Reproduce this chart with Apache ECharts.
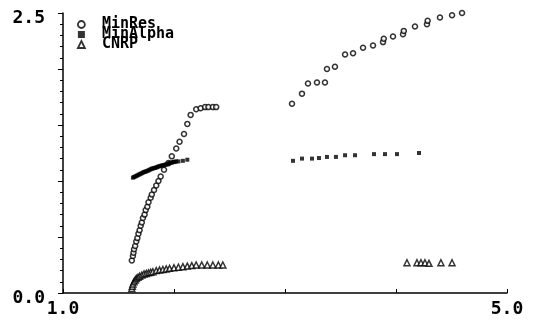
<!DOCTYPE html>
<html>
<head>
<meta charset="utf-8">
<script src="https://cdn.jsdelivr.net/npm/echarts@6/dist/echarts.min.js"></script>
<style>html,body{margin:0;padding:0;background:#fff}#c{width:560px;height:322px}</style>
</head>
<body>
<div id="c"></div>
<script>
const seriesNames = ['MinRes', 'MinAlpha', 'CNRP'];
const xTickLabels = [1, 5];
const yTickLabels = [0, 2.5];

const minResK = [1.62,1.63,1.635,1.64,1.65,1.66,1.67,1.68,1.69,1.70,1.71,1.72,1.735,1.745,1.76,1.77,1.79,1.80,1.82,1.84,1.86,1.88,1.91,1.95,1.98,2.02,2.05,2.09,2.12,2.15,2.20,2.24,2.28,2.31,2.35,2.38,
  3.063,3.153,3.207,3.288,3.360,3.378,3.450,3.541,3.613,3.703,3.793,3.883,3.89,3.973,4.063,4.07,4.171,4.279,4.285,4.396,4.505,4.595];
const minResVal = [0.29,0.33,0.36,0.39,0.42,0.46,0.49,0.53,0.56,0.60,0.63,0.67,0.70,0.74,0.77,0.81,0.85,0.88,0.92,0.96,1.00,1.04,1.10,1.16,1.22,1.29,1.35,1.42,1.51,1.59,1.64,1.65,1.66,1.66,1.66,1.66,
  1.69,1.78,1.87,1.88,1.88,2.00,2.02,2.13,2.14,2.19,2.21,2.24,2.27,2.29,2.31,2.34,2.38,2.40,2.43,2.46,2.48,2.50];

const minAlphaK = [1.63,1.64,1.65,1.66,1.67,1.68,1.69,1.70,1.71,1.72,1.73,1.74,1.75,1.76,1.77,1.78,1.79,1.80,1.81,1.82,1.83,1.84,1.85,1.86,1.87,1.88,1.89,1.90,1.91,1.92,1.93,1.94,1.95,1.96,1.97,1.98,1.99,2.00,2.01,2.02,2.04,2.08,2.12,
  3.072,3.153,3.243,3.306,3.378,3.459,3.541,3.631,3.802,3.901,4.009,4.207];
const minAlphaVal = [1.03,1.035,1.04,1.045,1.05,1.055,1.06,1.065,1.07,1.075,1.08,1.083,1.086,1.09,1.095,1.10,1.105,1.11,1.112,1.115,1.118,1.12,1.125,1.13,1.132,1.135,1.138,1.14,1.142,1.145,1.148,1.15,1.155,1.16,1.162,1.165,1.168,1.17,1.172,1.175,1.175,1.18,1.19,
  1.18,1.20,1.20,1.205,1.215,1.215,1.23,1.23,1.24,1.24,1.24,1.25];

const cnrpK = [1.62,1.625,1.63,1.64,1.65,1.66,1.675,1.69,1.71,1.73,1.75,1.77,1.79,1.81,1.84,1.87,1.90,1.93,1.96,2.00,2.04,2.08,2.12,2.16,2.20,2.25,2.30,2.35,2.40,2.44,
  4.099,4.189,4.225,4.261,4.297,4.405,4.505];
const cnrpVal = [0.04,0.06,0.08,0.10,0.115,0.13,0.14,0.15,0.16,0.17,0.175,0.18,0.185,0.19,0.20,0.205,0.21,0.215,0.22,0.225,0.23,0.235,0.24,0.245,0.25,0.25,0.25,0.25,0.25,0.25,
  0.27,0.27,0.27,0.27,0.265,0.27,0.27];

const pair = (xs, ys) => xs.map((x, i) => [x, ys[i]]);
const font = 'DejaVu Sans Mono';
const chart = echarts.init(document.getElementById('c'), null, {renderer: 'canvas'});
chart.setOption({
  animation: false,
  backgroundColor: '#fff',
  grid: {left: 63, right: 53, top: 13, bottom: 29, containLabel: false, outerBoundsMode: 'none'},
  legend: {
    orient: 'vertical', left: 72, top: 12, itemGap: -5, itemWidth: 7, itemHeight: 7,
    data: [
      {name: seriesNames[0], icon: 'circle', itemStyle: {color: '#fff', borderColor: '#000', borderWidth: 1.8}},
      {name: seriesNames[1], icon: 'rect', itemStyle: {color: '#000', borderColor: '#000', borderWidth: 0}},
      {name: seriesNames[2], icon: 'triangle', itemStyle: {color: '#fff', borderColor: '#000', borderWidth: 1.8}}
    ],
    textStyle: {fontFamily: font, fontWeight: 'bold', fontSize: 15, color: '#000', padding: [0, 0, 0, 12]}
  },
  xAxis: {
    type: 'value', min: 1, max: 5, interval: 1,
    name: 'Max k', nameLocation: 'middle', nameGap: 21,
    nameTextStyle: {fontFamily: font, fontWeight: 'bold', fontSize: 17, color: '#000', padding: [0, 0, 0, 12]},
    axisLine: {lineStyle: {color: '#000', width: 1.5}},
    axisTick: {inside: true, length: 4, lineStyle: {color: '#000'}},
    axisLabel: {customValues: xTickLabels, formatter: v => v.toFixed(1), fontFamily: font, fontWeight: 'bold', fontSize: 18, color: '#000', margin: 7},
    splitLine: {show: false}
  },
  yAxis: {
    type: 'value', min: 0, max: 2.5, interval: 0.5,
    axisLine: {show: true, lineStyle: {color: '#000', width: 1.5}},
    axisTick: {show: true, length: 5, lineStyle: {color: '#000'}},
    minorTick: {show: true, splitNumber: 5, length: 3, lineStyle: {color: '#000'}},
    axisLabel: {customValues: yTickLabels, formatter: v => v.toFixed(1), fontFamily: font, fontWeight: 'bold', fontSize: 18, color: '#000', margin: 18, verticalAlign: 'top', padding: [-4, 0, 0, 0]},
    splitLine: {show: false}
  },
  series: [
    {name: seriesNames[0], type: 'scatter', data: pair(minResK, minResVal), symbol: 'circle', symbolSize: 5,
      itemStyle: {color: '#fff', borderColor: '#000', borderWidth: 1.5}},
    {name: seriesNames[1], type: 'scatter', data: pair(minAlphaK, minAlphaVal), symbol: 'rect', symbolSize: 4,
      itemStyle: {color: '#000', borderWidth: 0}},
    {name: seriesNames[2], type: 'scatter', data: pair(cnrpK, cnrpVal), symbol: 'triangle', symbolSize: 6,
      itemStyle: {color: '#fff', borderColor: '#000', borderWidth: 1.5}}
  ]
});
</script>
</body>
</html>
